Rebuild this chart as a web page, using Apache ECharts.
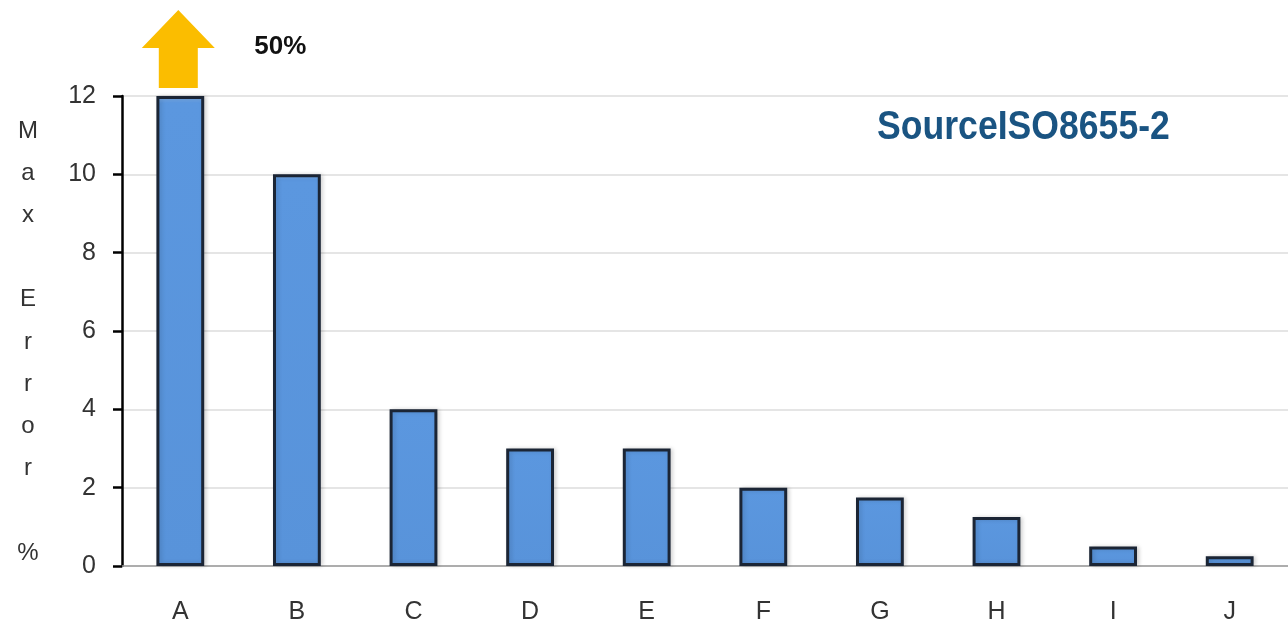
<!DOCTYPE html>
<html>
<head>
<meta charset="utf-8">
<script src="https://cdn.jsdelivr.net/npm/echarts@6/dist/echarts.min.js"></script>
<style>
html,body{margin:0;padding:0;background:#fff;}
#chart{width:1288px;height:629px;}
</style>
</head>
<body>
<div id="chart"></div>
<script>
// Data
var categories = ['A', 'B', 'C', 'D', 'E', 'F', 'G', 'H', 'I', 'J'];
var maxErrorValues = [12, 10, 4, 3, 3, 2, 1.75, 1.25, 0.5, 0.25]; // A is off-scale (actual 50%), drawn capped at axis max
var capLabel = '50%';
var yTicks = [0, 2, 4, 6, 8, 10, 12];
var yAxisTitle = ['M', 'a', 'x', '', 'E', 'r', 'r', 'o', 'r', '', '%'];
var sourceText = 'SourceISO8655-2';

var chart = echarts.init(document.getElementById('chart'));
var option = {
  backgroundColor: '#ffffff',
  animation: false,
  grid: { left: 122, right: -8, top: 96, bottom: 63, containLabel: false },
  xAxis: {
    type: 'category',
    data: categories,
    axisLine: { show: true, lineStyle: { color: '#9a9a9a', width: 1.5 } },
    axisTick: { show: false },
    axisLabel: { margin: 34, fontSize: 25, color: '#333', fontFamily: 'Liberation Sans, Arial, sans-serif' },
    splitLine: { show: false }
  },
  yAxis: {
    type: 'value',
    min: yTicks[0],
    max: yTicks[yTicks.length - 1],
    interval: 2,
    axisLine: { show: true, lineStyle: { color: '#000', width: 2.5 } },
    axisTick: { show: true, length: 9, lineStyle: { color: '#000', width: 2.5 } },
    axisLabel: { margin: 26, fontSize: 25, color: '#333', fontFamily: 'Liberation Sans, Arial, sans-serif' },
    splitLine: { show: true, lineStyle: { color: '#dcdcdc', width: 1.5 } }
  },
  series: [{
    type: 'bar',
    data: maxErrorValues,
    barWidth: '41%',
    itemStyle: {
      color: new echarts.graphic.LinearGradient(0, 0, 0, 1, [
        { offset: 0, color: '#7fb0ea' },
        { offset: 0.015, color: '#5b97df' },
        { offset: 1, color: '#5893da' }
      ]),
      borderColor: '#1b2535',
      borderWidth: 3,
      shadowColor: 'rgba(0,0,0,0.15)',
      shadowBlur: 4,
      shadowOffsetX: 2
    },
    markPoint: {
      silent: true,
      data: [{ coord: [categories[0], yTicks[yTicks.length - 1]] }],
      symbol: 'path://M36.5,0 L73,38 L56,38 L56,78 L17,78 L17,38 L0,38 Z',
      symbolSize: [73, 78],
      symbolOffset: [-2, -47],
      itemStyle: { color: '#fbbd00' },
      label: {
        show: true,
        position: 'inside',
        offset: [102, -2],
        formatter: capLabel,
        color: '#111',
        fontSize: 26,
        fontWeight: 'bold',
        fontFamily: 'Liberation Sans, Arial, sans-serif'
      }
    }
  }],
  graphic: [
    {
      type: 'text',
      x: 28, y: 342,
      style: {
        text: yAxisTitle.join('\n'),
        fontSize: 24,
        lineHeight: 42.2,
        fill: '#333',
        align: 'center',
        verticalAlign: 'middle',
        fontFamily: 'Liberation Sans, Arial, sans-serif'
      }
    },
    {
      type: 'text',
      x: 877, y: 128,
      scaleX: 0.89,
      style: {
        text: sourceText,
        fontSize: 40,
        fontWeight: 'bold',
        fill: '#1a5482',
        align: 'left',
        verticalAlign: 'middle',
        fontFamily: 'Liberation Sans, Arial, sans-serif'
      }
    }
  ]
};
chart.setOption(option);
</script>
</body>
</html>
